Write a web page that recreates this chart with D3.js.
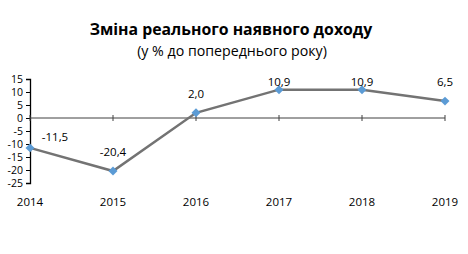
<!DOCTYPE html>
<html>
<head>
<meta charset="utf-8">
<script src="https://cdn.jsdelivr.net/npm/d3@7"></script>
<style>
  body { margin: 0; background: #fff; }
  text { font-family: "Open Sans", "Liberation Sans", sans-serif; fill: #000; }
</style>
</head>
<body>
<svg id="canvas"></svg>
<script>
const svg = d3.select("#canvas")
  .attr("width", 468)
  .attr("height", 254);

// data
const years = ["2014", "2015", "2016", "2017", "2018", "2019"];
const values = [-11.5, -20.4, 2.0, 10.9, 10.9, 6.5];
const yTicks = [15, 10, 5, 0, -5, -10, -15, -20, -25];

const plotLeft = 30, plotRight = 445, plotTop = 79, plotBottom = 183;

const x = d3.scalePoint().domain(years).range([plotLeft, plotRight]);
const y = d3.scaleLinear().domain([-25, 15]).range([plotBottom, plotTop]);

// title
svg.append("text")
  .attr("x", 231).attr("y", 35)
  .attr("text-anchor", "middle")
  .style("font-size", "15.8px").style("font-weight", "bold")
  .text("Зміна реального наявного доходу");
svg.append("text")
  .attr("x", 232).attr("y", 56)
  .attr("text-anchor", "middle")
  .style("font-size", "14.2px")
  .text("(у % до попереднього року)");

// y axis
const yAxis = svg.append("g")
  .attr("transform", `translate(${plotLeft},0)`)
  .call(d3.axisLeft(y).tickValues(yTicks).tickSize(4).tickPadding(3).tickFormat(d3.format("d")));
yAxis.select(".domain").attr("stroke", "#000").attr("stroke-width", 1.3);
yAxis.selectAll(".tick line").attr("stroke", "#000");
yAxis.selectAll(".tick text").style("font-size", "10.5px").attr("fill", "#000")
  .text(d => d < 0 ? "-" + Math.abs(d) : d);

// zero line with category ticks
svg.append("line")
  .attr("x1", plotLeft).attr("x2", plotRight)
  .attr("y1", y(0)).attr("y2", y(0))
  .attr("stroke", "#404040").attr("stroke-width", 1);
svg.selectAll(".cat-tick")
  .data(years)
  .join("line")
  .attr("class", "cat-tick")
  .attr("x1", d => x(d)).attr("x2", d => x(d))
  .attr("y1", y(0) - 3).attr("y2", y(0) + 3)
  .attr("stroke", "#404040");

// year labels
svg.selectAll(".year")
  .data(years)
  .join("text")
  .attr("class", "year")
  .attr("x", d => x(d)).attr("y", 206)
  .attr("text-anchor", "middle")
  .style("font-size", "11.5px")
  .text(d => d);

// line
const line = d3.line().x((d, i) => x(years[i])).y(d => y(d));
svg.append("path")
  .datum(values)
  .attr("d", line)
  .attr("fill", "none")
  .attr("stroke", "#737373")
  .attr("stroke-width", 2.5);

// markers
svg.selectAll(".pt")
  .data(values)
  .join("path")
  .attr("class", "pt")
  .attr("d", d3.symbol(d3.symbolSquare, 40))
  .attr("transform", (d, i) => `translate(${x(years[i])},${y(d)}) rotate(45)`)
  .attr("fill", "#5b9bd5");

// data labels
const fmt = d => d.toFixed(1).replace(".", ",");
svg.selectAll(".lbl")
  .data(values)
  .join("text")
  .attr("class", "lbl")
  .attr("x", (d, i) => x(years[i]) + (i === 0 ? 25 : 0))
  .attr("y", (d, i) => i === 0 ? y(d) - 7 : Math.max(y(d) - 15, 86))
  .attr("text-anchor", "middle")
  .style("font-size", "11.5px")
  .text(fmt);
</script>
</body>
</html>
